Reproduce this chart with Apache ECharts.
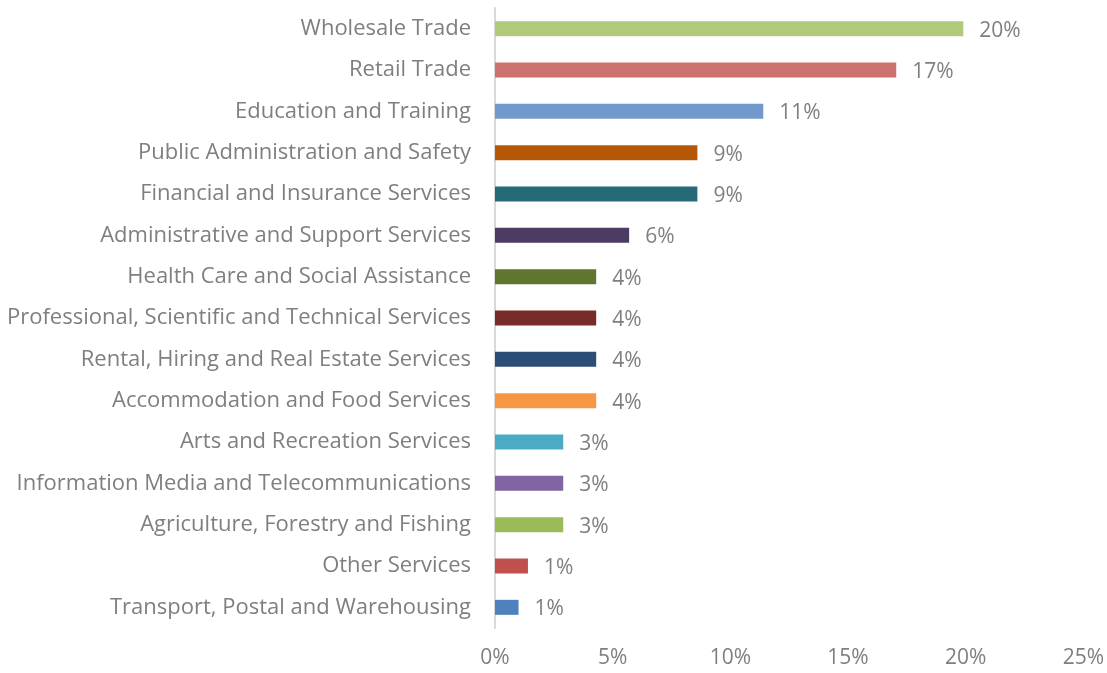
<!DOCTYPE html>
<html>
<head>
<meta charset="utf-8">
<script src="https://cdn.jsdelivr.net/npm/echarts@6/dist/echarts.min.js"></script>
<style>
  html, body { margin: 0; padding: 0; background: #fff; }
  #chart { width: 1107px; height: 673px; }
</style>
</head>
<body>
<div id="chart"></div>
<script>
// industries, top to bottom
const categories = [
  'Wholesale Trade',
  'Retail Trade',
  'Education and Training',
  'Public Administration and Safety',
  'Financial and Insurance Services',
  'Administrative and Support Services',
  'Health Care and Social Assistance',
  'Professional, Scientific and Technical Services',
  'Rental, Hiring and Real Estate Services',
  'Accommodation and Food Services',
  'Arts and Recreation Services',
  'Information Media and Telecommunications',
  'Agriculture, Forestry and Fishing',
  'Other Services',
  'Transport, Postal and Warehousing'
];
// share of businesses, %
const shares = [19.9, 17.05, 11.4, 8.6, 8.6, 5.7, 4.3, 4.3, 4.3, 4.3, 2.9, 2.9, 2.9, 1.4, 1.0];
const barColors = [
  '#b0c97a', '#cd716f', '#7199cb', '#b65708', '#276a77',
  '#4c3b62', '#5f7530', '#772c2a', '#2c4d74', '#f79746',
  '#4babc5', '#8165a2', '#9bbb59', '#c0504d', '#4f81bd'
];
const xTicks = [0, 5, 10, 15, 20, 25];

const textColor = '#7f7f7f';
const font = '"Open Sans", sans-serif';

const chart = echarts.init(document.getElementById('chart'));
chart.setOption({
  animation: false,
  grid: { left: 495, right: 21, top: 8, bottom: 45 },
  xAxis: {
    type: 'value',
    min: xTicks[0],
    max: xTicks[xTicks.length - 1],
    interval: 5,
    axisLine: { show: false },
    axisTick: { show: false },
    splitLine: { show: false },
    axisLabel: {
      color: textColor, fontFamily: font, fontSize: 21, margin: 20,
      formatter: v => v + '%'
    }
  },
  yAxis: {
    type: 'category',
    inverse: true,
    data: categories,
    axisLine: { show: true, lineStyle: { color: '#d9d9d9', width: 2 } },
    axisTick: { show: false },
    axisLabel: { color: textColor, fontFamily: font, fontSize: 22, margin: 24 }
  },
  series: [{
    type: 'bar',
    barWidth: 15,
    data: shares.map((v, i) => ({ value: v, itemStyle: { color: barColors[i] } })),
    label: {
      show: true,
      position: 'right',
      distance: 16,
      color: textColor,
      fontFamily: font,
      fontSize: 21,
      offset: [0, 2],
      formatter: p => Math.round(p.value) + '%'
    }
  }]
});
</script>
</body>
</html>
